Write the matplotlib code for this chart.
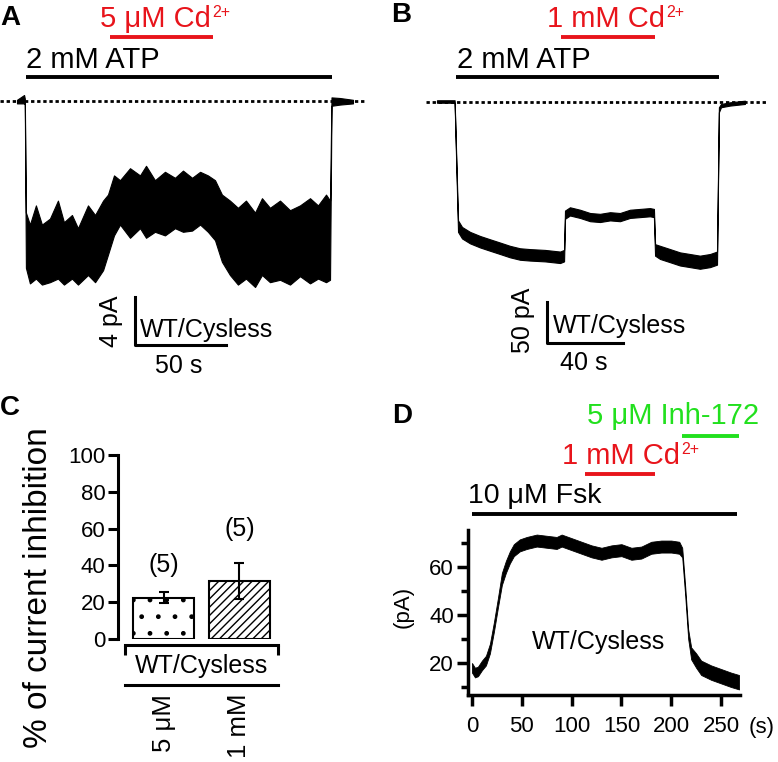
import numpy as np
import matplotlib
matplotlib.use("Agg")
import matplotlib.pyplot as plt
from matplotlib.lines import Line2D

plt.rcParams['font.family'] = ['Liberation Sans', 'DejaVu Sans']
plt.rcParams['hatch.linewidth'] = 1.0

# ---- panel A : 2 mM ATP, 5 uM Cd2+  (time s, current pA)
a_t = [-4.4, -0.5, -0.1, 0.5, 2.7, 6.0, 9.3, 13.7, 18.1, 21.4, 25.8, 29.1, 34.6,
       38.5, 42.9, 45.6, 48.9, 52.2, 57.7, 63.2, 66.5, 71.4, 76.9, 82.4, 86.8,
       91.8, 96.2, 100.5, 104.4, 108.2, 112.6, 117.0, 121.4, 126.4, 130.2, 134.6,
       140.1, 145.6, 151.1, 156.6, 161.0, 165.4, 167.6, 168.4, 173.0, 180.2]
a_up = [0.1, 0.5, 0.2, -9.3, -10.3, -8.7, -10.3, -9.8, -8.3, -10.1, -9.5, -10.6,
        -8.7, -9.5, -8.3, -7.8, -6.2, -6.6, -5.6, -6.2, -5.4, -6.6, -5.9, -6.4,
        -5.8, -6.4, -5.9, -6.2, -6.6, -7.8, -8.3, -8.9, -8.3, -9.3, -8.1, -8.9,
        -8.3, -9.1, -8.7, -8.1, -8.7, -7.8, -8.3, 0.3, 0.25, 0.1]
a_low = [-0.2, -0.2, -0.3, -13.9, -15.2, -14.8, -15.3, -15.1, -14.8, -15.3, -14.8,
         -15.3, -14.5, -15.1, -14.1, -12.8, -11.2, -10.3, -11.4, -10.6, -11.4,
         -10.9, -11.2, -10.6, -10.9, -10.8, -10.3, -10.9, -11.6, -13.4, -14.5,
         -15.3, -14.8, -15.5, -14.5, -15.1, -14.9, -15.3, -14.6, -15.2, -14.8,
         -15.1, -14.9, -0.4, -0.3, -0.2]
a_atp = [0.5, 168.7]
a_cd = [46.7, 103.3]

# ---- panel B : 2 mM ATP, 1 mM Cd2+
b_t = [-9.5, -0.2, 1.6, 3.7, 7.9, 13.2, 18.4, 23.7, 28.9, 34.2, 39.5, 47.4, 55.3,
       57.4, 57.9, 60.5, 65.8, 71.1, 76.3, 81.6, 86.8, 92.1, 97.4, 102.6, 104.7,
       105.3, 107.9, 113.2, 118.4, 123.7, 128.9, 134.2, 137.9, 138.9, 140.0,
       144.7, 152.6]
b_mid = [0, 0, -152, -160, -166, -171, -175, -179, -183, -186, -187, -188, -190,
         -188, -138, -134, -137, -141, -142, -140, -141, -137, -136, -135, -136,
         -181, -184, -188, -192, -194, -196, -194, -191, -10, -5, -3, -1]
b_noise = [1.5, 1.5, 7, 7, 7, 7, 7, 7, 7, 7, 7, 7, 7, 7, 5, 5, 5, 5, 5, 5, 5, 5,
           5, 5, 5, 7, 8, 8, 8, 8, 8, 8, 8, 3, 2, 2, 2]
b_atp = [0.5, 139.0]
b_cd = [55.8, 105.3]

# ---- panel C : % inhibition
c_conc = ['5 \u03bcM', '1 mM']
c_mean = [22.3, 31.5]
c_err = [3.0, 9.8]
c_n = ['(5)', '(5)']

# ---- panel D : Fsk trace
d_t = [0, 3, 6, 10, 14, 18, 22, 26, 30, 34, 38, 42, 48, 55, 65, 75, 85, 90, 100,
       110, 120, 130, 140, 150, 160, 170, 180, 190, 200, 208, 211, 214, 217, 220,
       225, 230, 240, 250, 260, 268]
d_mid = [18, 16, 16.5, 19, 21, 26, 35, 45, 55, 60, 64, 67, 69, 70, 71, 70.5, 70,
         71, 69.5, 68, 66.5, 65.5, 66.5, 67, 65.5, 66, 68, 68.5, 68.5, 68, 66, 50,
         32, 24, 21, 18, 16, 14.5, 13, 12]
d_noise = [2, 2, 2, 2, 2, 2, 2, 2, 2.5, 2.5, 2.5, 2.5, 2.5, 2.5, 2.5, 2.5, 2.5,
           2.5, 2.5, 2.5, 2.5, 2.5, 2.5, 2.5, 2.5, 2.5, 2.5, 2.5, 2.5, 2.5, 2, 2,
           2, 2.5, 3, 3, 3, 3, 3, 3]
d_fsk = [0, 266]
d_cd = [113, 184]
d_inh = [211, 268]

W, H = 778, 762
fig = plt.figure(figsize=(W / 100, H / 100), dpi=100)
renderer = fig.canvas.get_renderer()


def box(l, t, r, b):
    return fig.add_axes([l / W, 1 - b / H, (r - l) / W, (b - t) / H])


def ftext(x, y, s, **kw):
    kw.setdefault('fontsize', 18)
    return fig.text(x / W, 1 - y / H, s, **kw)


def cd_text(x, y, s, color, size=21):
    # "... Cd" followed by a small 2+ superscript
    t = ftext(x, y, s, color=color, fontsize=size)
    bb = t.get_window_extent(renderer)
    ftext(bb.x1 + 1, y - 10, '2+', color=color, fontsize=size * 0.55)


def trace_axes(l, t, r, b, x0, sx, y0, sy):
    # x0,y0 = pixel of t=0 / I=0 ; sx,sy = pixels per unit
    ax = box(l, t, r, b)
    ax.set_xlim((l - x0) / sx, (r - x0) / sx)
    ax.set_ylim((y0 - b) / sy, (y0 - t) / sy)
    ax.axis('off')
    return ax


red = '#e8141b'
green = '#22e01e'

# ---------------- A
axA = trace_axes(0, 0, 380, 400, 25, 1.82, 101, 12)
axA.fill_between(a_t, a_low, a_up, color='k', lw=0.8)
axA.plot([-13.7, 186.8], [0, 0], color='k', lw=2, ls=(0, (1.2, 1)))
axA.plot(a_atp, [2.0, 2.0], color='k', lw=2.8, solid_capstyle='butt')
axA.plot(a_cd, [5.33, 5.33], color=red, lw=2.8, solid_capstyle='butt')
axA.plot([60.4, 60.4, 110.4], [-16.33, -20.33, -20.33], color='k', lw=2.2)
ftext(0, 25, 'A', fontsize=20, fontweight='bold')
cd_text(100, 27, '5 \u03bcM Cd', red)
ftext(26, 68, '2 mM ATP', fontsize=21)
ftext(111, 321, '4 pA', rotation=90, ha='center', va='center')
ftext(140, 337, 'WT/Cysless')
ftext(179, 373, '50 s', ha='center')

# ---------------- B
axB = trace_axes(390, 0, 778, 400, 455, 1.9, 101.5, 0.82)
b_mid_a = np.array(b_mid, dtype=float)
b_noise_a = np.array(b_noise, dtype=float)
axB.fill_between(b_t, b_mid_a - b_noise_a, b_mid_a + b_noise_a, color='k', lw=0.8)
axB.plot([-15.3, 164.7], [0, 0], color='k', lw=2, ls=(0, (1.2, 1)))
axB.plot(b_atp, [29.9, 29.9], color='k', lw=2.8, solid_capstyle='butt')
axB.plot(b_cd, [78.7, 78.7], color=red, lw=2.8, solid_capstyle='butt')
axB.plot([48.4, 48.4, 88.4], [-244.5, -294.5, -294.5], color='k', lw=2.2)
ftext(391, 22, 'B', fontsize=20, fontweight='bold')
cd_text(547, 27, '1 mM Cd', red)
ftext(457, 68, '2 mM ATP', fontsize=21)
ftext(523, 320, '50 pA', rotation=90, ha='center', va='center')
ftext(553, 333, 'WT/Cysless')
ftext(584, 370, '40 s', ha='center')

# ---------------- C
axC = box(118, 455, 278, 639)
x = np.arange(1, len(c_mean) + 1)
bars = axC.bar(x, c_mean, width=0.8, color='white', edgecolor='k', lw=1.5,
               yerr=c_err, capsize=3.5, error_kw=dict(elinewidth=1.5, capthick=1.5))
bars[0].set_hatch('.')
bars[1].set_hatch('////')
for xi, ny, n in zip(x, [40, 60], c_n):
    axC.text(xi, ny, n, ha='center', va='center', fontsize=18)
axC.set_xlim(0.401, 2.507)
axC.set_ylim(0, 100)
axC.set_yticks([0, 20, 40, 60, 80, 100])
for s in ['top', 'right']:
    axC.spines[s].set_visible(False)
axC.spines['left'].set_linewidth(2.2)
axC.spines['bottom'].set_linewidth(2.2)
axC.spines['bottom'].set_position(('outward', 4.3))
axC.spines['bottom'].set_bounds(0.493, 2.507)
axC.set_xticks([0.493, 2.507])
axC.set_xticklabels(['', ''])
axC.tick_params(axis='both', direction='out', length=7, width=2.2, labelsize=16,
                pad=2)
fig.add_artist(Line2D([125 / W, 278 / W], [1 - 685 / H] * 2, color='k', lw=2.2))
ftext(0, 415, 'C', fontsize=20, fontweight='bold')
ftext(39, 588, '% of current inhibition', rotation=90, ha='center',
      va='center', fontsize=24)
ftext(202, 673, 'WT/Cysless', ha='center')
for xi, lab in zip([164, 239], c_conc):
    ftext(xi, 694, lab, rotation=90, ha='center', va='top', fontsize=18.5)

# ---------------- D
axD = box(468, 530, 740, 695)
d_mid_a = np.array(d_mid, dtype=float)
d_noise_a = np.array(d_noise, dtype=float)
axD.fill_between(d_t, d_mid_a - d_noise_a, d_mid_a + d_noise_a, color='k', lw=0.6)
axD.set_xlim(-4, 269)
axD.set_ylim(6.67, 75.4)
axD.set_xticks([0, 50, 100, 150, 200, 250])
axD.set_yticks([20, 40, 60])
axD.set_yticks([10, 30, 50, 70], minor=True)
for s in ['top', 'right']:
    axD.spines[s].set_visible(False)
for s in ['left', 'bottom']:
    axD.spines[s].set_linewidth(2.5)
axD.tick_params(axis='both', which='major', direction='out', length=8, width=2.5,
                labelsize=16)
axD.tick_params(axis='y', which='minor', direction='out', length=5, width=2.5)
axD.tick_params(axis='x', pad=7)
axD.tick_params(axis='y', pad=2)
axD.plot(d_fsk, [82.1, 82.1], color='k', lw=2.8, clip_on=False,
         solid_capstyle='butt')
axD.plot(d_cd, [98.75, 98.75], color=red, lw=2.8, clip_on=False,
         solid_capstyle='butt')
axD.plot(d_inh, [114.6, 114.6], color=green, lw=2.8, clip_on=False,
         solid_capstyle='butt')
ftext(392, 423, 'D', fontsize=20, fontweight='bold')
ftext(587, 424, '5 \u03bcM Inh-172', color=green, fontsize=21)
cd_text(562, 464, '1 mM Cd', red)
ftext(468, 503, '10 \u03bcM Fsk', fontsize=20.5)
ftext(599, 649, 'WT/Cysless', ha='center')
ftext(403, 607, '(pA)', rotation=90, ha='center', va='center', fontsize=16)
ftext(762, 728, '(s)', ha='center', va='center', fontsize=16)

fig.savefig('out.png', dpi=100)
